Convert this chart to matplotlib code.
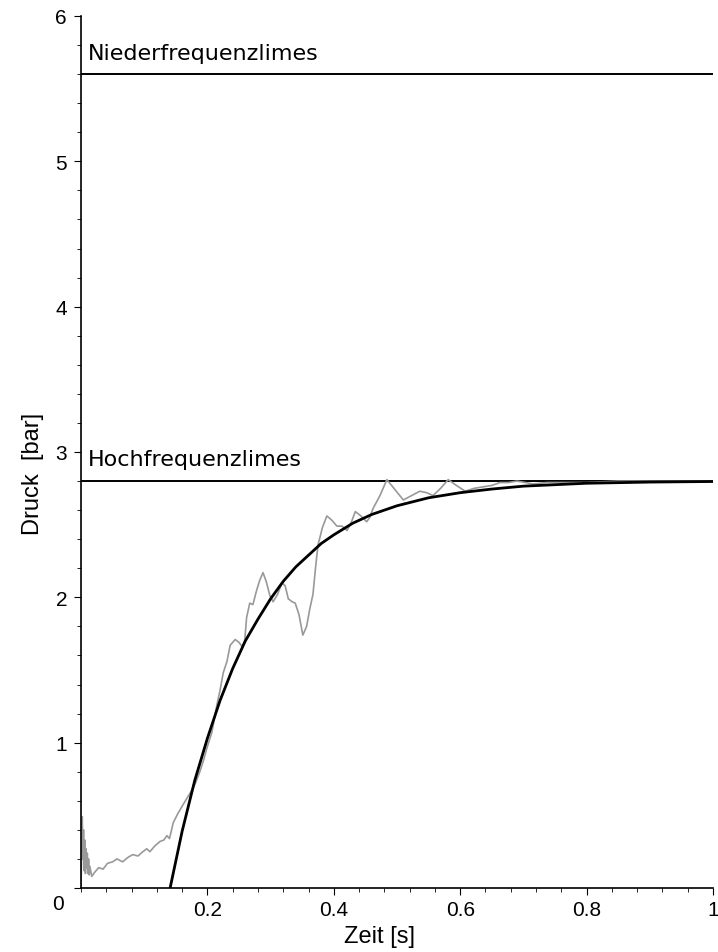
import matplotlib
matplotlib.use("Agg")
import matplotlib.pyplot as plt
from matplotlib.ticker import MultipleLocator

plt.rcParams['font.family'] = ['Liberation Sans', 'DejaVu Sans']

# limits (bar)
nf_limit = 5.6
hf_limit = 2.8

# smooth model curve (black)
model_t = [0.141, 0.16, 0.18, 0.20, 0.22, 0.24, 0.26, 0.28, 0.30, 0.32, 0.34, 0.36,
           0.38, 0.40, 0.43, 0.46, 0.50, 0.55, 0.60, 0.65, 0.70, 0.75, 0.80, 0.90, 1.00]
model_p = [0.00, 0.39, 0.74, 1.03, 1.29, 1.51, 1.70, 1.85, 1.99, 2.11, 2.21, 2.29,
           2.37, 2.43, 2.51, 2.57, 2.63, 2.685, 2.72, 2.745, 2.765, 2.775, 2.785, 2.793, 2.797]

# measured signal (gray)
meas_t = [0.000, 0.002, 0.003, 0.004, 0.005, 0.006, 0.007, 0.008, 0.009, 0.010, 0.011,
          0.012, 0.013, 0.014, 0.017, 0.022, 0.028, 0.035, 0.042, 0.050, 0.057, 0.066,
          0.074, 0.082, 0.090, 0.098, 0.104, 0.109, 0.117, 0.125, 0.131, 0.136, 0.140,
          0.146, 0.153, 0.161, 0.168, 0.175, 0.181, 0.188, 0.194, 0.199, 0.207, 0.215,
          0.220, 0.225, 0.231, 0.236, 0.244, 0.250, 0.255, 0.259, 0.262, 0.267, 0.272,
          0.278, 0.283, 0.288, 0.293, 0.299, 0.304, 0.311, 0.318, 0.323, 0.328, 0.334,
          0.339, 0.345, 0.351, 0.357, 0.362, 0.367, 0.371, 0.375, 0.382, 0.389, 0.397,
          0.405, 0.413, 0.421, 0.428, 0.434, 0.443, 0.452, 0.457, 0.462, 0.473, 0.484,
          0.497, 0.510, 0.523, 0.536, 0.547, 0.557, 0.569, 0.581, 0.594, 0.608, 0.622,
          0.636, 0.650, 0.663, 0.676, 0.690, 0.703, 0.715, 0.737, 0.758, 0.800, 0.850,
          0.900, 0.950, 1.000]
meas_p = [0.00, 0.49, 0.20, 0.40, 0.12, 0.33, 0.10, 0.27, 0.14, 0.24, 0.10,
          0.20, 0.09, 0.15, 0.08, 0.11, 0.14, 0.13, 0.17, 0.18, 0.20, 0.18,
          0.21, 0.23, 0.22, 0.25, 0.27, 0.25, 0.29, 0.32, 0.33, 0.36, 0.34,
          0.45, 0.51, 0.57, 0.62, 0.67, 0.72, 0.80, 0.88, 0.96, 1.07, 1.26,
          1.36, 1.48, 1.56, 1.67, 1.71, 1.69, 1.66, 1.70, 1.86, 1.96, 1.95,
          2.05, 2.12, 2.17, 2.11, 2.01, 1.97, 2.02, 2.10, 2.08, 1.99, 1.97,
          1.96, 1.88, 1.74, 1.80, 1.92, 2.02, 2.20, 2.36, 2.48, 2.56, 2.53,
          2.49, 2.49, 2.46, 2.52, 2.59, 2.56, 2.52, 2.55, 2.61, 2.70, 2.81,
          2.74, 2.67, 2.70, 2.73, 2.72, 2.70, 2.75, 2.81, 2.77, 2.73, 2.75,
          2.76, 2.77, 2.79, 2.79, 2.80, 2.79, 2.78, 2.79, 2.79, 2.79, 2.80,
          2.80, 2.80, 2.80]

xtick_vals = [0.2, 0.4, 0.6, 0.8, 1.0]
xtick_labels = ['0.2', '0.4', '0.6', '0.8', '1']
ytick_vals = [1, 2, 3, 4, 5, 6]
ytick_labels = ['1', '2', '3', '4', '5', '6']
origin_label = '0'

fig = plt.figure(figsize=(7.18, 9.53), dpi=100)
ax = fig.add_axes([81/718, 1 - 889/953, (713 - 81)/718, (889 - 17)/953])

ax.plot(meas_t, meas_p, color='#999999', lw=1.2, zorder=2)
ax.plot(model_t, model_p, color='black', lw=2.0, zorder=3)
ax.axhline(nf_limit, color='black', lw=1.4, zorder=1)
ax.axhline(hf_limit, color='black', lw=1.4, zorder=1)

ax.text(0.011, nf_limit + 0.08, 'Niederfrequenzlimes', fontsize=16,
        family='DejaVu Sans', ha='left', va='bottom')
ax.text(0.011, hf_limit + 0.08, 'Hochfrequenzlimes', fontsize=16,
        family='DejaVu Sans', ha='left', va='bottom')

ax.set_xlim(0, 1)
ax.set_ylim(0, 6)
ax.set_xticks(xtick_vals)
ax.set_xticklabels(xtick_labels)
ax.set_yticks([0] + ytick_vals)
ax.set_yticklabels([''] + ytick_labels)
ax.xaxis.set_minor_locator(MultipleLocator(0.04))
ax.yaxis.set_minor_locator(MultipleLocator(0.2))
ax.tick_params(axis='both', which='major', labelsize=15, length=5, width=0.8, direction='out', pad=5)
ax.tick_params(axis='x', which='major', pad=4)
ax.tick_params(axis='both', which='minor', length=3, width=0.6, direction='out')

ax.annotate(origin_label, xy=(0, 0), xycoords='data', xytext=(-12, -4),
            textcoords='offset points', ha='right', va='top', fontsize=15)

for s in ['top', 'right']:
    ax.spines[s].set_visible(False)
for s in ['left', 'bottom']:
    ax.spines[s].set_linewidth(1.2)

ax.set_xlabel('Zeit [s]', fontsize=17)
ax.set_ylabel('Druck  [bar]', fontsize=17)
ax.xaxis.set_label_coords(0.472, -0.042)
ax.yaxis.set_label_coords(-0.058, 0.476)

fig.savefig('out.png', dpi=100)
